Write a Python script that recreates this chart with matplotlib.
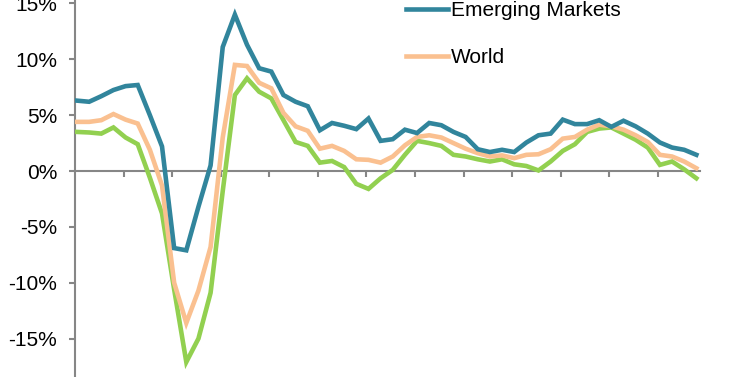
import matplotlib
matplotlib.use("Agg")
import matplotlib.pyplot as plt
from matplotlib.lines import Line2D
import numpy as np

plt.rcParams['font.family'] = ['Liberation Sans', 'DejaVu Sans']

emerging = [6.3, 6.2, 6.7, 7.25, 7.6, 7.7, 5.0, 2.2, -6.9, -7.1,
            -3.2, 0.5, 11.1, 14.0, 11.3, 9.2, 8.9, 6.8, 6.2, 5.8,
            3.65, 4.3, 4.05, 3.75, 4.7, 2.7, 2.85, 3.7, 3.4, 4.3,
            4.1, 3.5, 3.05, 1.95, 1.7, 1.9, 1.7, 2.55, 3.2, 3.35,
            4.6, 4.2, 4.2, 4.55, 3.95, 4.5, 4.0, 3.35, 2.55, 2.1,
            1.9, 1.45]
world = [4.4, 4.4, 4.55, 5.1, 4.6, 4.25, 1.9, -1.3, -10.0, -13.6,
         -10.7, -6.8, 3.0, 9.5, 9.4, 7.9, 7.4, 5.2, 4.0, 3.6,
         2.0, 2.25, 1.8, 1.05, 1.0, 0.75, 1.3, 2.3, 3.05, 3.2,
         3.0, 2.5, 2.0, 1.6, 1.3, 1.4, 1.15, 1.45, 1.5, 1.95,
         2.9, 3.05, 3.7, 4.15, 4.0, 3.7, 3.2, 2.6, 1.45, 1.3,
         0.85, 0.25]
advanced = [3.5, 3.45, 3.35, 3.9, 3.0, 2.4, -0.6, -3.8, -10.6, -17.1,
            -15.0, -10.9, -1.8, 6.8, 8.3, 7.1, 6.5, 4.55, 2.6, 2.25,
            0.75, 0.9, 0.35, -1.15, -1.6, -0.65, 0.1, 1.45, 2.7, 2.5,
            2.25, 1.45, 1.3, 1.05, 0.85, 1.05, 0.6, 0.45, 0.05, 0.85,
            1.8, 2.4, 3.5, 3.8, 3.9, 3.35, 2.8, 2.1, 0.55, 0.85,
            0.15, -0.65]
ytick_values = [-15, -10, -5, 0, 5, 10, 15]
ytick_labels = [f"{v}%" for v in ytick_values]

W, H = 744, 377
fig = plt.figure(figsize=(W / 100, H / 100), dpi=100)
left_px, right_px = 75, 700
ax = fig.add_axes([left_px / W, 0, (right_px - left_px) / W, 1])

x = np.arange(len(emerging))
c_em, c_w, c_adv = '#31859C', '#FAC090', '#92D050'
lw = 3.3
ax.plot(x, advanced, color=c_adv, lw=lw, solid_joinstyle='miter', zorder=3)
ax.plot(x, world, color=c_w, lw=lw, solid_joinstyle='miter', zorder=4)
ax.plot(x, emerging, color=c_em, lw=lw, solid_joinstyle='miter', zorder=5)

x0 = -0.165
ax.set_xlim(x0, 51.3)
ax.set_ylim(-18.44, 15.31)

for s in ['top', 'right']:
    ax.spines[s].set_visible(False)
ax.spines['bottom'].set_position(('data', 0))
for s in ['left', 'bottom']:
    ax.spines[s].set_color('#868686')
    ax.spines[s].set_linewidth(1.5)

ax.set_xticks([x0 + 4 * k for k in range(1, 13)])
ax.set_xticklabels([])
ax.tick_params(axis='x', direction='out', length=4, width=1.5, color='#868686')
ax.set_yticks(ytick_values)
ax.set_yticklabels(ytick_labels)
ax.tick_params(axis='y', direction='out', length=4.3, width=1.5, color='#868686',
               labelsize=15, pad=8.5)

handles = [Line2D([], [], color=c_em, lw=lw), Line2D([], [], color=c_w, lw=lw)]
leg = fig.legend(handles, ['Emerging Markets', 'World'], loc='upper left',
                 bbox_to_anchor=(406 / W, 1 - 1 / H), frameon=False, fontsize=15,
                 handlelength=2.0, handletextpad=0.15, labelspacing=1.35,
                 borderpad=0, borderaxespad=0)

fig.savefig('out.png', dpi=100, facecolor='white')
